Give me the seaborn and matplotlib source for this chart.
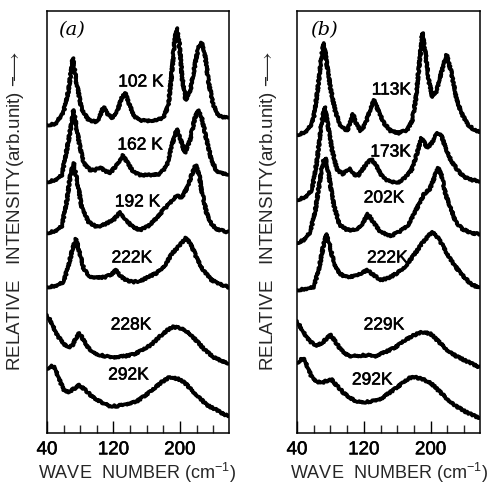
import pandas as pd
import seaborn as sns
import matplotlib.pyplot as plt
import matplotlib.patheffects as pe
from matplotlib.ticker import FixedLocator, MultipleLocator

# Raman spectra (wave number in cm-1, intensity in arb. units incl. offset)
# panel (a)
a_102_x = [40, 50, 60, 66, 71, 76, 82, 90, 100, 104, 108, 112, 118, 125, 130, 134, 138, 144, 150, 160, 170, 180,
           186, 190, 193, 196, 199, 203, 207, 212, 218, 222, 226, 230, 234, 240, 246, 252, 258]
a_102_y = [308, 309, 321, 343, 375, 348, 323, 313, 311, 318, 326, 320, 315, 323, 335, 340, 331, 318, 313, 312, 313, 315,
           328, 358, 388, 405, 391, 353, 333, 341, 368, 385, 390, 378, 353, 328, 318, 316, 316]
a_162_x = [40, 50, 58, 66, 72, 78, 84, 92, 98, 104, 110, 116, 124, 131, 137, 144, 152, 165, 176, 184, 190, 196, 200,
           206, 212, 218, 222, 226, 232, 238, 244, 252, 258]
a_162_y = [251, 253, 258, 293, 323, 293, 270, 263, 263, 266, 262, 260, 268, 278, 270, 261, 258, 258, 259, 267, 287, 304,
           295, 280, 293, 315, 323, 316, 293, 273, 262, 259, 259]
a_192_x = [40, 50, 58, 64, 68, 72, 76, 82, 90, 100, 110, 120, 128, 135, 143, 152, 162, 172, 180, 188, 196, 202, 209,
           214, 219, 223, 226, 232, 238, 244, 252, 258]
a_192_y = [200, 202, 207, 233, 258, 270, 253, 225, 211, 206, 209, 213, 221, 213, 206, 203, 207, 215, 223, 230, 238, 235,
           246, 258, 268, 258, 243, 220, 209, 204, 202, 201]
a_222_x = [40, 50, 60, 66, 71, 75, 79, 84, 90, 100, 110, 118, 123, 128, 135, 143, 152, 162, 172, 182, 191, 200, 207,
           213, 220, 228, 238, 248, 258]
a_222_y = [146, 147, 151, 168, 185, 194, 181, 165, 157, 155, 156, 159, 163, 157, 153, 151, 152, 156, 160, 168, 180, 188,
           195, 189, 175, 163, 153, 149, 146]
a_228_x = [40, 45, 52, 60, 66, 70, 75, 79, 84, 90, 96, 104, 115, 125, 135, 145, 155, 165, 175, 185, 192, 200, 210,
           220, 230, 240, 250, 258]
a_228_y = [118, 111, 98, 89, 86, 87, 95, 100, 93, 85, 80, 78, 76, 76, 77, 79, 83, 88, 96, 103, 106, 105, 101,
           92, 83, 76, 72, 70]
a_292_x = [40, 44, 49, 54, 60, 66, 72, 79, 86, 95, 105, 115, 125, 135, 147, 157, 167, 178, 188, 198, 206, 214, 224,
           232, 242, 250, 258]
a_292_y = [64, 67, 66, 55, 43, 41, 44, 48, 43, 36, 31, 27, 27, 29, 31, 37, 43, 51, 56, 54, 50, 43, 35,
           28, 24, 20, 17]

# panel (b)
b_113_x = [40, 50, 56, 60, 65, 69, 72, 75, 80, 86, 92, 100, 104, 107, 110, 116, 122, 128, 132, 136, 144, 152, 162,
           172, 178, 182, 186, 190, 194, 198, 202, 207, 212, 219, 224, 230, 236, 244, 252, 258]
b_113_y = [298, 301, 307, 315, 345, 375, 390, 373, 345, 321, 308, 302, 311, 319, 311, 302, 309, 325, 333, 325, 310, 302, 300,
           303, 313, 333, 366, 400, 378, 351, 336, 341, 358, 378, 363, 338, 321, 309, 303, 301]
b_173_x = [40, 50, 58, 64, 69, 73, 77, 82, 88, 95, 103, 109, 114, 122, 129, 135, 143, 152, 162, 170, 177, 183, 189,
           196, 201, 208, 212, 218, 224, 232, 240, 250, 258]
b_173_y = [233, 236, 243, 273, 308, 326, 308, 283, 263, 259, 265, 258, 258, 268, 274, 267, 255, 251, 251, 256, 263, 278, 295,
           285, 290, 300, 299, 285, 273, 263, 256, 253, 252]
b_202_x = [40, 48, 56, 62, 67, 71, 74, 78, 84, 91, 100, 110, 118, 125, 131, 140, 152, 162, 172, 180, 186, 192, 199,
           205, 209, 213, 218, 224, 230, 238, 248, 258]
b_202_y = [190, 193, 201, 223, 251, 271, 275, 258, 228, 208, 203, 203, 209, 219, 211, 201, 197, 201, 207, 219, 229, 239, 244,
           257, 265, 258, 238, 225, 211, 204, 200, 199]
b_222_x = [40, 50, 60, 66, 71, 75, 79, 84, 90, 98, 110, 118, 124, 130, 140, 150, 160, 170, 180, 190, 197, 202, 207,
           214, 220, 228, 238, 248, 258]
b_222_y = [143, 144, 146, 163, 185, 199, 188, 171, 160, 156, 157, 160, 163, 159, 153, 155, 160, 167, 178, 190, 197, 201, 197,
           188, 179, 168, 158, 149, 145]
b_229_x = [40, 46, 54, 62, 70, 77, 81, 86, 93, 102, 112, 122, 134, 146, 158, 168, 178, 186, 192, 200, 210, 220, 230,
           240, 250, 258]
b_229_y = [112, 103, 93, 87, 90, 96, 98, 91, 83, 77, 77, 78, 77, 81, 86, 92, 97, 100, 101, 99, 91, 83, 77,
           73, 69, 66]
b_292_x = [40, 44, 48, 53, 58, 64, 72, 78, 82, 88, 96, 104, 112, 122, 132, 142, 152, 160, 168, 175, 180, 190, 200,
           210, 220, 230, 240, 250, 258]
b_292_y = [70, 73, 75, 65, 55, 51, 51, 53, 53, 47, 40, 35, 31, 31, 32, 35, 41, 46, 51, 55, 56, 54, 50,
           42, 34, 27, 22, 18, 15]

temps_a = ['102 K', '162 K', '192 K', '222K', '228K', '292K']
temps_b = ['113K', '173K', '202K', '222K', '229K', '292K']
curves_a = [(a_102_x, a_102_y), (a_162_x, a_162_y), (a_192_x, a_192_y),
            (a_222_x, a_222_y), (a_228_x, a_228_y), (a_292_x, a_292_y)]
curves_b = [(b_113_x, b_113_y), (b_173_x, b_173_y), (b_202_x, b_202_y),
            (b_222_x, b_222_y), (b_229_x, b_229_y), (b_292_x, b_292_y)]

sns.set_theme(style="white")
plt.rcParams['font.family'] = ['Liberation Sans', 'DejaVu Sans']
plt.rcParams['mathtext.fontset'] = 'custom'
plt.rcParams['mathtext.rm'] = 'Liberation Sans'

# a touch heavier strokes, like the printed scan
heavy = [pe.withStroke(linewidth=0.4, foreground='black')]

fig = plt.figure(figsize=(4.9, 4.94), dpi=100)
ax_a = fig.add_axes([47 / 490, 61 / 494, 182 / 490, 422 / 494])
ax_b = fig.add_axes([297 / 490, 61 / 494, 183 / 490, 422 / 494])

# where the temperature tags sit (wave number, intensity)
tag_pos_a = [(153, 351), (152, 288), (149, 231), (142, 175), (141, 108), (138, 58)]
tag_pos_b = [(153, 343), (152, 281), (144, 235), (148, 175), (144, 108), (130, 53)]


def draw_panel(ax, curves, temps, tag_pos, letter, letter_x):
    rows = []
    for (xs, ys), t in zip(curves, temps):
        rows.append(pd.DataFrame({'wn': xs, 'inten': ys, 'T': t}))
    df = pd.concat(rows)
    sns.lineplot(data=df, x='wn', y='inten', units='T', estimator=None, sort=False,
                 color='black', linewidth=2.7, ax=ax, legend=False)
    # scan-like ragged strokes
    for ln in ax.lines:
        ln.set_sketch_params(scale=0.9, length=2.5, randomness=3)
        ln.set_solid_joinstyle('round')

    for t, (x, y) in zip(temps, tag_pos):
        ax.text(x, y, t, ha='center', va='center', fontsize=12.5, color='black', path_effects=heavy)
    ax.text(letter_x, 403, letter, ha='center', va='center', fontsize=14,
            family='DejaVu Serif', style='italic', color='black')

    ax.set_xlim(40, 259)
    ax.set_ylim(0, 422)
    ax.set_yticks([])
    ax.xaxis.set_major_locator(FixedLocator([40, 120, 200]))
    ax.xaxis.set_minor_locator(MultipleLocator(20))
    ax.tick_params(axis='x', which='major', direction='in', length=9, width=1,
                   labelsize=13.5, pad=6, colors='black', bottom=True, top=False)
    ax.tick_params(axis='x', which='minor', direction='in', length=5.5, width=1,
                   bottom=True, top=False)
    for lab in ax.get_xticklabels():
        lab.set_path_effects(heavy)
    ax.set_xlabel('')
    ax.set_ylabel('')
    for s in ax.spines.values():
        s.set_color('black')
        s.set_linewidth(1.1)


draw_panel(ax_a, curves_a, temps_a, tag_pos_a, '(a)', 69)
draw_panel(ax_b, curves_b, temps_b, tag_pos_b, '(b)', 72)

ylab = r'RELATIVE   INTENSITY(arb.unit) $-\!\!\!\longrightarrow$'
fig.text(16 / 490, 1 - 211 / 494, ylab, rotation=90, ha='center', va='center', fontsize=13.5)
fig.text(268 / 490, 1 - 211 / 494, ylab, rotation=90, ha='center', va='center', fontsize=13.5)

xlab = r'WAVE  NUMBER (cm$^{-1}$)'
fig.text(137 / 490, 1 - 473 / 494, xlab, ha='center', va='center', fontsize=13)
fig.text(389 / 490, 1 - 473 / 494, xlab, ha='center', va='center', fontsize=13)

fig.savefig('out.png', dpi=100, facecolor='white')
